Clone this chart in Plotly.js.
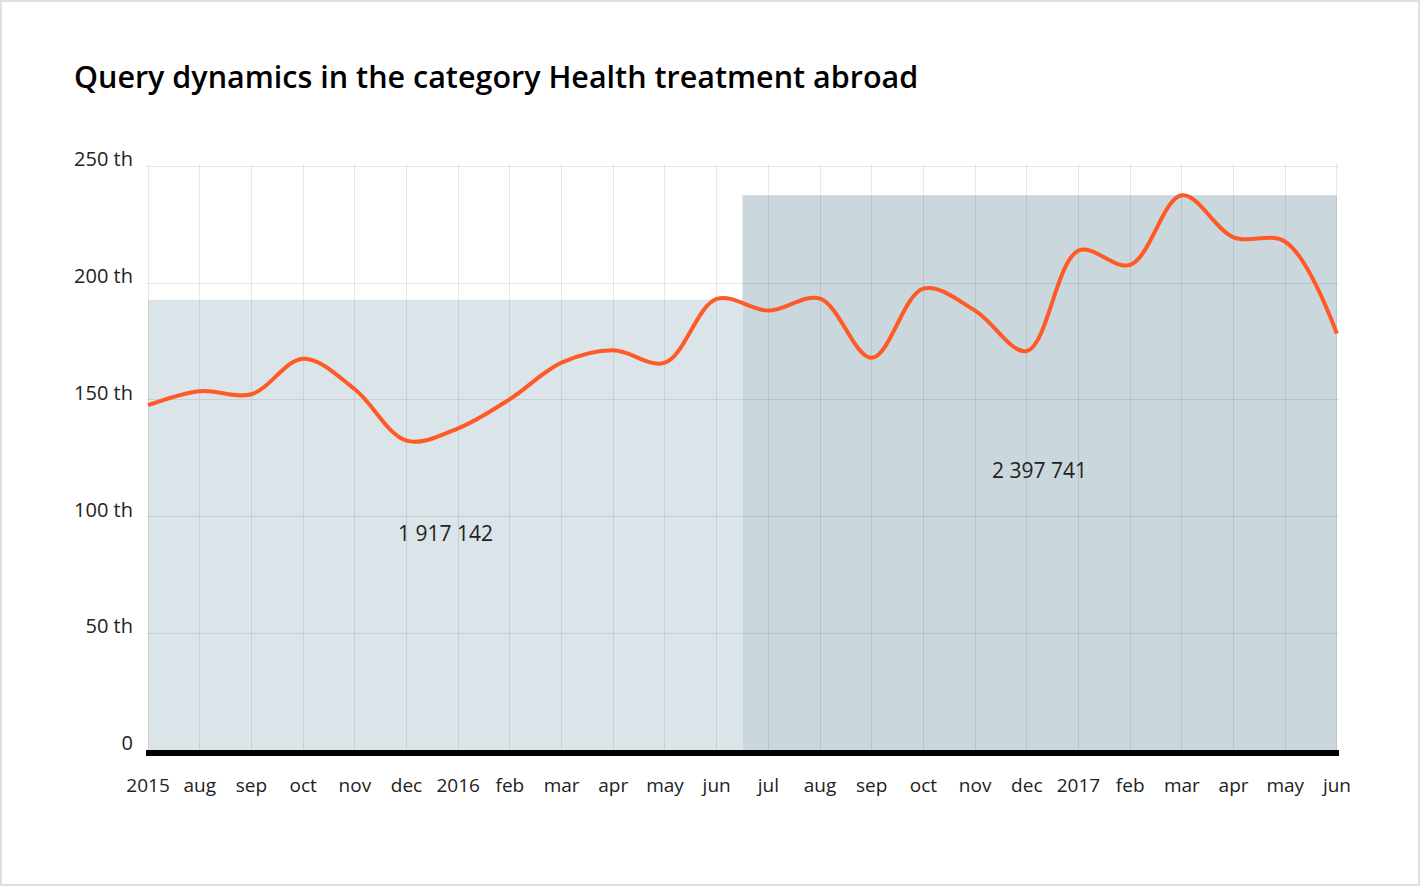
<!DOCTYPE html>
<html>
<head>
<meta charset="utf-8">
<script src="https://cdn.plot.ly/plotly-3.0.1.min.js"></script>
<style>
  html, body { margin: 0; padding: 0; background: #fff; }
  #wrap { position: relative; width: 1420px; height: 886px; }
  #chart { width: 1420px; height: 886px; }
  #frame { position: absolute; left: 0; top: 0; width: 1420px; height: 886px; box-sizing: border-box;
           border: 2px solid #e0e0e0; pointer-events: none; }
</style>
</head>
<body>
<div id="wrap"><div id="chart"></div><div id="frame"></div></div>
<script>
// Month labels (Jul 2015 .. Jun 2017)
const monthLabels = ['2015','aug','sep','oct','nov','dec','2016','feb','mar','apr','may','jun',
                     'jul','aug','sep','oct','nov','dec','2017','feb','mar','apr','may','jun'];
// Queries, thousands
const queries = [147.7, 153.7, 152.4, 167.6, 154.5, 132.5, 137.8, 150.3, 165.9, 171.2, 165.9, 193.2,
                 188.2, 193.3, 168.0, 197.6, 188.2, 170.9, 213.9, 207.8, 237.6, 219.6, 217.7, 178.4];
// Period bars (heights), totals
const periodStart = [-0.5, 11.5];
const periodEnd = [11.5, 23];
const periodHeight = [192.9, 237.6];
const periodTotals = ['1 917 142', '2 397 741'];
const periodColors = ['#dae4e9', '#cad7dd'];
const changeLabel = '+25%';
const yTickVals = [0, 50, 100, 150, 200, 250];
const yTickText = ['0', '50 th', '100 th', '150 th', '200 th', '250 th'];

const xIdx = monthLabels.map((_, i) => i);

const shapes = periodHeight.map((h, k) => ({
  type: 'rect', xref: 'x', yref: 'y',
  x0: Math.max(periodStart[k], 0), x1: periodEnd[k], y0: 0, y1: h,
  fillcolor: periodColors[k], line: {width: 0}, layer: 'below'
}));

const annotations = periodTotals.map((t, k) => ({
  x: (Math.max(periodStart[k], 0) + periodEnd[k]) / 2,
  y: k === 0 ? 93 : 120,
  xref: 'x', yref: 'y', text: t, showarrow: false,
  font: {family: 'Open Sans, sans-serif', size: 21, color: '#222'}
}));
annotations.push({
  x: (periodStart[1] + periodEnd[1]) / 2, y: 252.7, xref: 'x', yref: 'y',
  text: changeLabel, showarrow: false, yanchor: 'middle',
  font: {family: 'Open Sans, sans-serif', size: 20, color: '#222'}
});

const trace = {
  x: xIdx, y: queries, type: 'scatter', mode: 'lines',
  line: {color: '#ff5a26', width: 4, shape: 'spline', smoothing: 1},
  hoverinfo: 'skip'
};

const layout = {
  width: 1420, height: 886,
  margin: {l: 146, r: 81, t: 164, b: 136},
  paper_bgcolor: '#ffffff', plot_bgcolor: '#ffffff',
  showlegend: false,
  title: {
    text: 'Query dynamics in the category Health treatment abroad',
    xref: 'container', yref: 'container', x: 74 / 1420, xanchor: 'left',
    y: 1 - 77 / 886, yanchor: 'middle',
    font: {family: 'Open Sans, sans-serif', size: 30.5, color: '#000', weight: 600}
  },
  xaxis: {
    range: [-0.04, 23.04], tickmode: 'array', tickvals: xIdx, ticktext: monthLabels,
    showgrid: true, gridcolor: 'rgba(0,0,0,0.085)', gridwidth: 1,
    zeroline: false, showline: true, linecolor: '#000', linewidth: 6,
    ticks: '', ticklabelstandoff: 13,
    tickfont: {family: 'Open Sans, sans-serif', size: 19, color: '#222'},
    fixedrange: true
  },
  yaxis: {
    range: [0, 251], tickmode: 'array', tickvals: yTickVals, ticktext: yTickText,
    showgrid: true, gridcolor: 'rgba(0,0,0,0.085)', gridwidth: 1,
    zeroline: false, showline: false, ticks: '', ticklabelshift: -7, ticklabelstandoff: 12,
    tickfont: {family: 'Open Sans, sans-serif', size: 20, color: '#222'},
    fixedrange: true
  },
  shapes: shapes,
  annotations: annotations
};

Plotly.newPlot('chart', [trace], layout, {displayModeBar: false, staticPlot: true});
</script>
</body>
</html>
